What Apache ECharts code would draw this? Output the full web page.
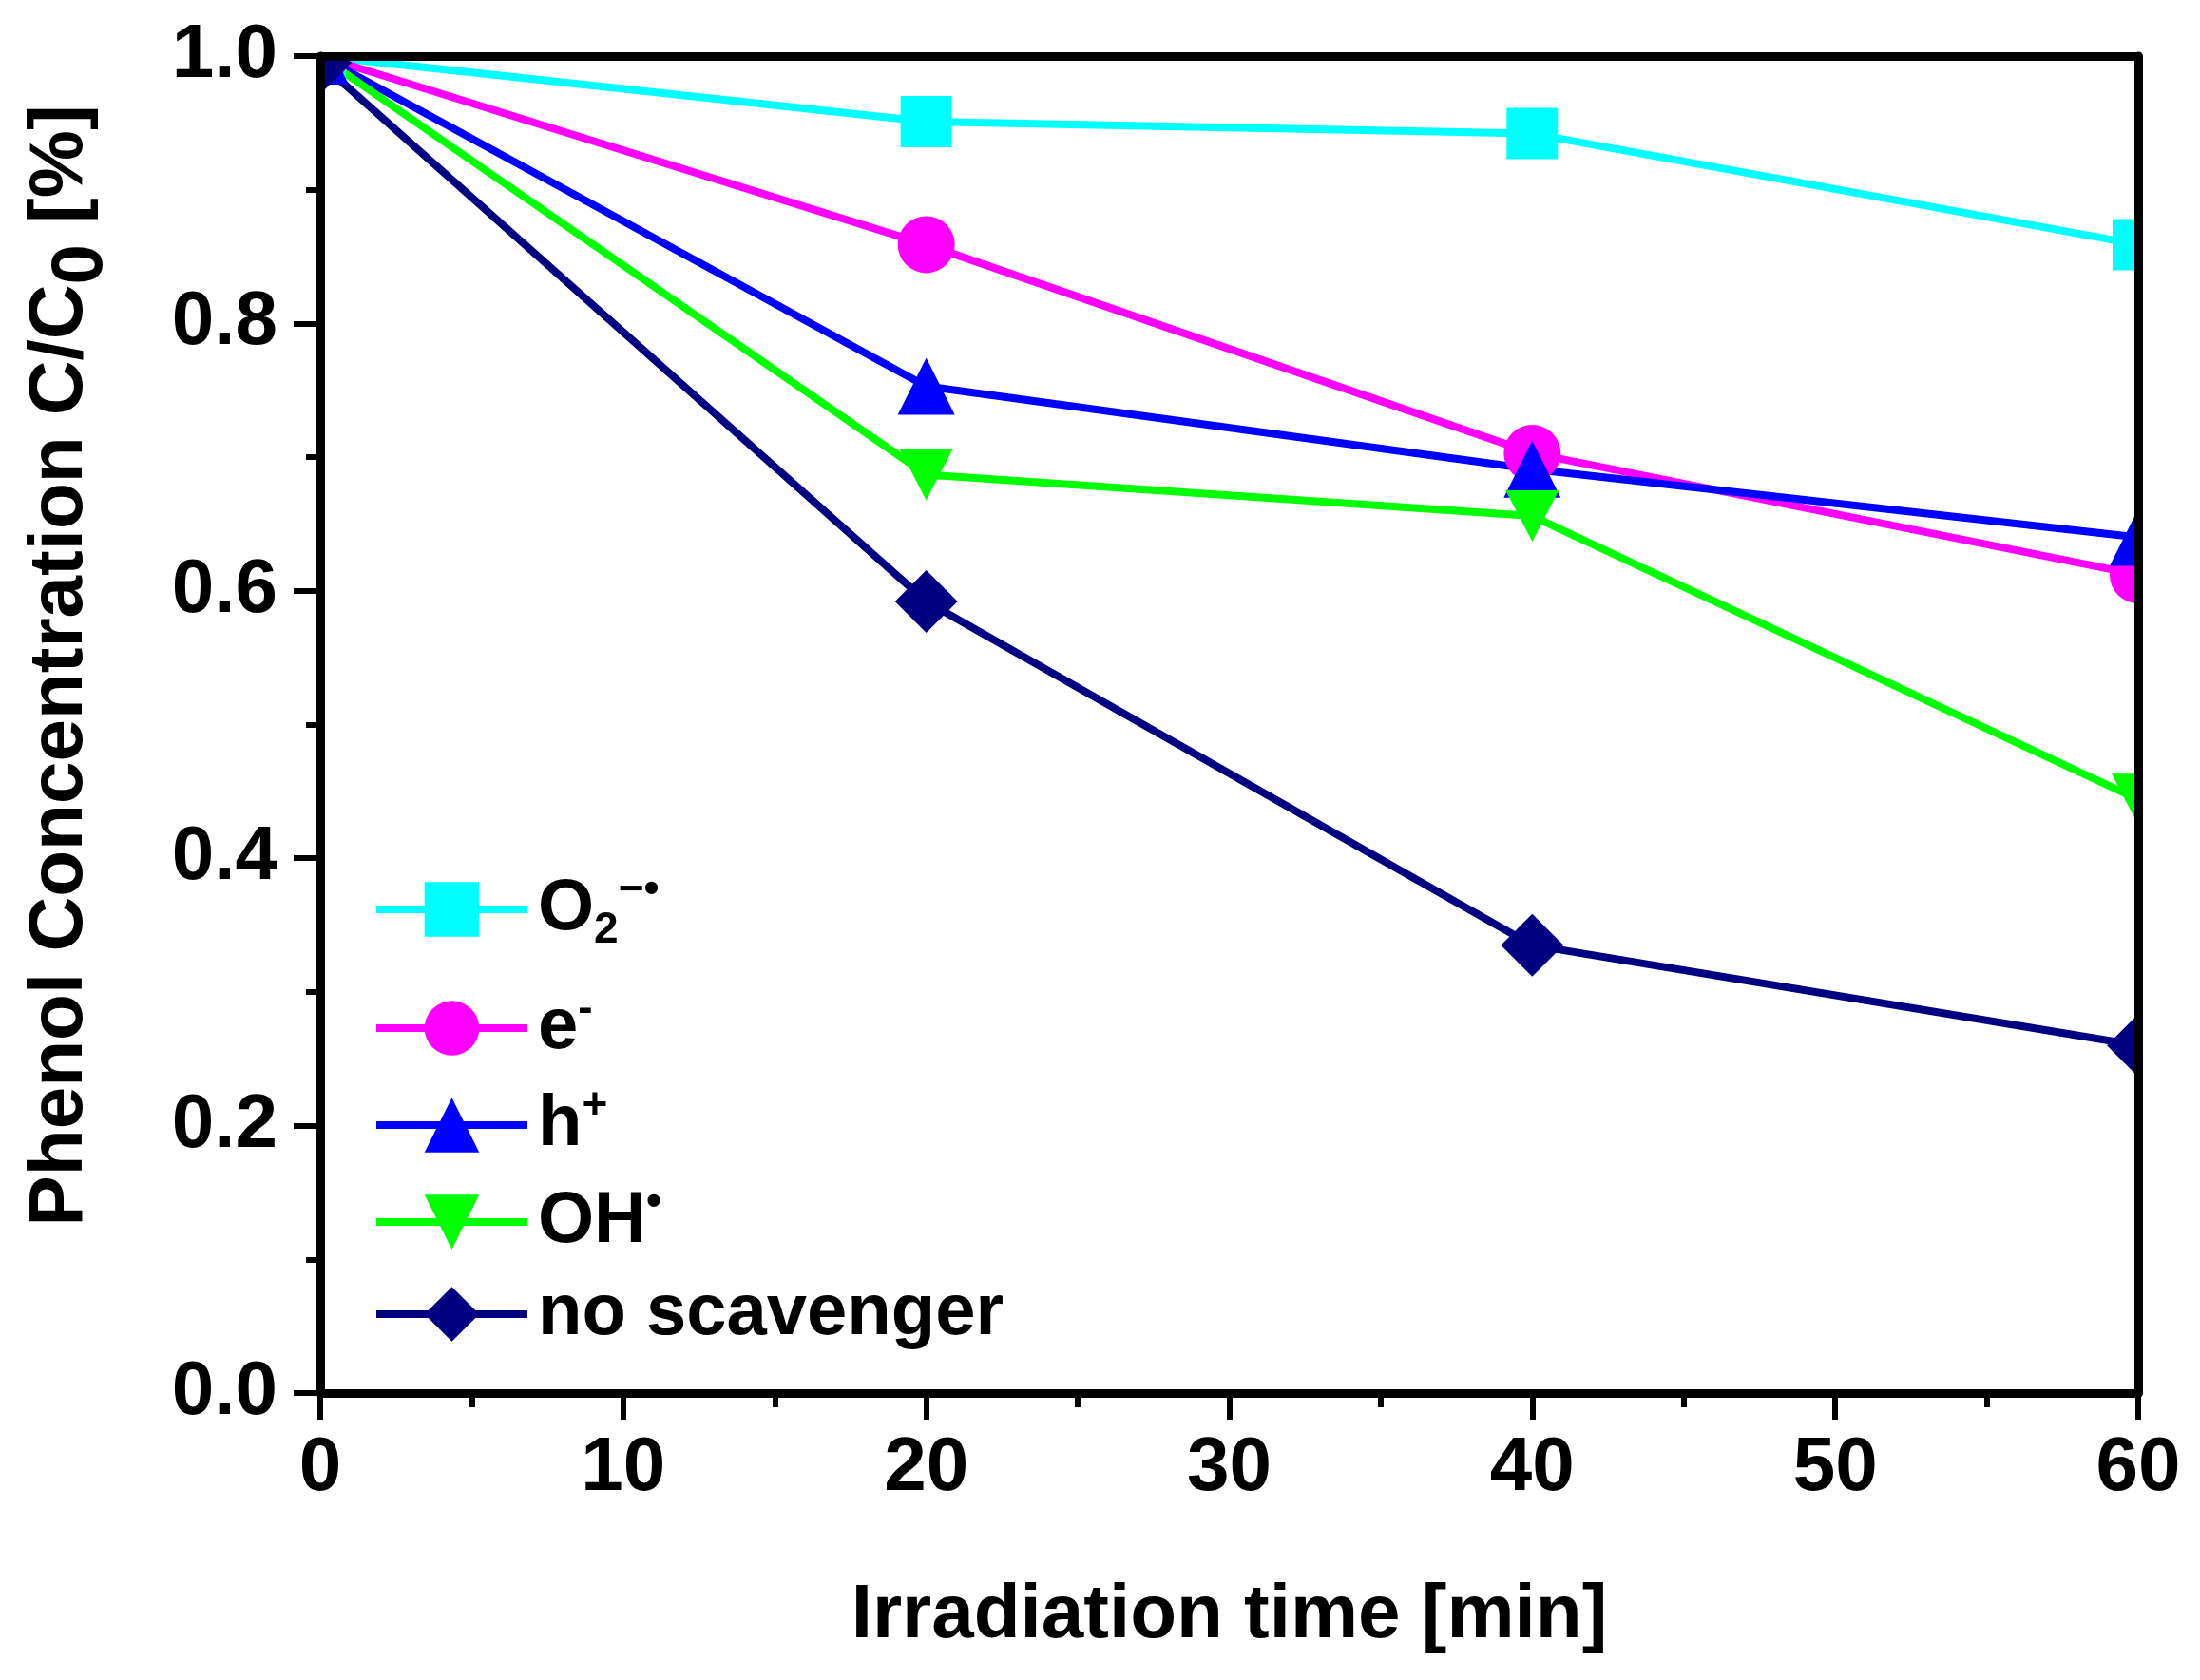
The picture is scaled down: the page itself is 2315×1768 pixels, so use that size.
<!DOCTYPE html>
<html>
<head>
<meta charset="utf-8">
<script src="https://cdn.jsdelivr.net/npm/echarts@6/dist/echarts.min.js"></script>
<style>
html,body{margin:0;padding:0;background:#fff;}
#chart{width:2315px;height:1768px;}
</style>
</head>
<body>
<div id="chart"></div>
<script>
const timeMin = [0, 20, 40, 60];
const seriesNames = ['O2', 'e-', 'h+', 'OH', 'no scavenger'];
const valO2 = [1.0, 0.951, 0.942, 0.859];
const valE = [1.0, 0.859, 0.703, 0.612];
const valH = [1.0, 0.753, 0.691, 0.640];
const valOH = [1.0, 0.687, 0.656, 0.444];
const valNone = [0.995, 0.592, 0.335, 0.260];
const yTicks = [0, 0.2, 0.4, 0.6, 0.8, 1.0];
const xTicks = [0, 10, 20, 30, 40, 50, 60];

const FONT = 'Liberation Sans, Arial, sans-serif';
const GL = 337, GT = 59, GW = 1913, GH = 1407;

function pairs(vals){ return timeMin.map((t,i)=>[t, vals[i]]); }

const colors = ['#00FFFF', '#FF00FF', '#0000FF', '#00FF00', '#000080'];
const symbols = ['rect', 'circle', 'triangle', 'path://M0,0 L20,0 L10,18 Z', 'diamond'];
const sizes = [54, 60, 60, [56, 54], 66];
const allVals = [valO2, valE, valH, valOH, valNone];

const legendLabels = {
  'O2': '{t|O}{sub|2}{sup|−•}',
  'e-': '{t|e}{sup|-}',
  'h+': '{t|h}{sup|+}',
  'OH': '{t|OH}{sup|•}',
  'no scavenger': '{t|no scavenger}'
};

const series = seriesNames.map((n, i) => ({
  name: n,
  type: 'line',
  data: pairs(allVals[i]),
  symbol: symbols[i],
  symbolSize: sizes[i],
  clip: false,
  z: 2,
  lineStyle: { color: colors[i], width: 8 },
  itemStyle: { color: colors[i], borderWidth: 0 },
  emphasis: { disabled: true },
  animation: false
}));

const axisLbl = { fontSize: 80, fontWeight: 'bold', fontFamily: FONT, color: '#000' };

const legendText = {
  fontSize: 76, fontWeight: 'bold', fontFamily: FONT, color: '#000', padding: [0, 0, 0, 6],
  rich: {
    t: { fontSize: 76, fontWeight: 'bold', fontFamily: FONT, color: '#000' },
    sub: { fontSize: 46, fontWeight: 'bold', fontFamily: FONT, color: '#000', padding: [44, 0, 0, 0] },
    sup: { fontSize: 46, fontWeight: 'bold', fontFamily: FONT, color: '#000', padding: [0, 0, 40, 0] }
  }
};
function makeLegend(names, top) {
  return {
    orient: 'vertical', left: 387, top: top, z: 20,
    itemWidth: 159, itemHeight: 72, itemGap: 21,
    data: names,
    formatter: n => legendLabels[n],
    lineStyle: { width: 8 },
    textStyle: legendText,
    selectedMode: false
  };
}

const chart = echarts.init(document.getElementById('chart'), null, { renderer: 'canvas' });
chart.setOption({
  backgroundColor: '#fff',
  animation: false,
  grid: { left: GL, top: GT, width: GW, height: GH, containLabel: false },
  xAxis: [{
    type: 'value', min: 0, max: 60, interval: 10, z: 10,
    name: 'Irradiation time [min]', nameLocation: 'middle', nameGap: 195,
    nameTextStyle: { fontSize: 80, fontWeight: 'bold', fontFamily: FONT, color: '#000' },
    axisLine: { show: true, onZero: false, lineStyle: { color: '#000', width: 9 } },
    axisTick: { show: true, inside: false, length: 28, lineStyle: { color: '#000', width: 6 } },
    minorTick: { show: true, splitNumber: 2, length: 15, lineStyle: { color: '#000', width: 6 } },
    splitLine: { show: false },
    axisLabel: Object.assign({ margin: 40, formatter: v => String(v) }, axisLbl)
  }, {
    type: 'value', min: 0, max: 60, position: 'top', z: 10,
    axisLine: { show: true, onZero: false, lineStyle: { color: '#000', width: 9 } },
    axisTick: { show: false }, axisLabel: { show: false }, splitLine: { show: false }
  }],
  yAxis: [{
    type: 'value', min: 0, max: 1, interval: 0.2, z: 10,
    name: '{t|Phenol Concentration C/C}{s|0}{t| [%]}', nameLocation: 'middle', nameGap: 213, nameRotate: 90,
    nameTextStyle: {
      fontSize: 80, fontWeight: 'bold', fontFamily: FONT, color: '#000',
      padding: [0, 0, 0, 124],
      rich: {
        t: { fontSize: 80, fontWeight: 'bold', fontFamily: FONT, color: '#000', lineHeight: 80, verticalAlign: 'top' },
        s: { fontSize: 76, fontWeight: 'bold', fontFamily: FONT, color: '#000', lineHeight: 100, verticalAlign: 'bottom' }
      }
    },
    axisLine: { show: true, onZero: false, lineStyle: { color: '#000', width: 9 } },
    axisTick: { show: true, inside: false, length: 28, lineStyle: { color: '#000', width: 6 } },
    minorTick: { show: true, splitNumber: 2, length: 15, lineStyle: { color: '#000', width: 6 } },
    splitLine: { show: false },
    axisLabel: Object.assign({ margin: 45, formatter: v => v.toFixed(1) }, axisLbl)
  }, {
    type: 'value', min: 0, max: 1, position: 'right', z: 10,
    axisLine: { show: true, onZero: false, lineStyle: { color: '#000', width: 9 } },
    axisTick: { show: false }, axisLabel: { show: false }, splitLine: { show: false }
  }],
  legend: [
    makeLegend(seriesNames.slice(0, 1), 909),
    makeLegend(seriesNames.slice(1), 1034)
  ],
  graphic: [
    { type: 'rect', z: 5, silent: true, shape: { x: 0, y: 0, width: GL, height: 1768 }, style: { fill: '#fff' } },
    { type: 'rect', z: 5, silent: true, shape: { x: GL + GW, y: 0, width: 2315 - GL - GW, height: 1768 }, style: { fill: '#fff' } },
    { type: 'rect', z: 5, silent: true, shape: { x: 0, y: 0, width: 2315, height: GT }, style: { fill: '#fff' } },
    { type: 'rect', z: 5, silent: true, shape: { x: 0, y: GT + GH, width: 2315, height: 1768 - GT - GH }, style: { fill: '#fff' } }
  ],
  series: series
});
</script>
</body>
</html>
